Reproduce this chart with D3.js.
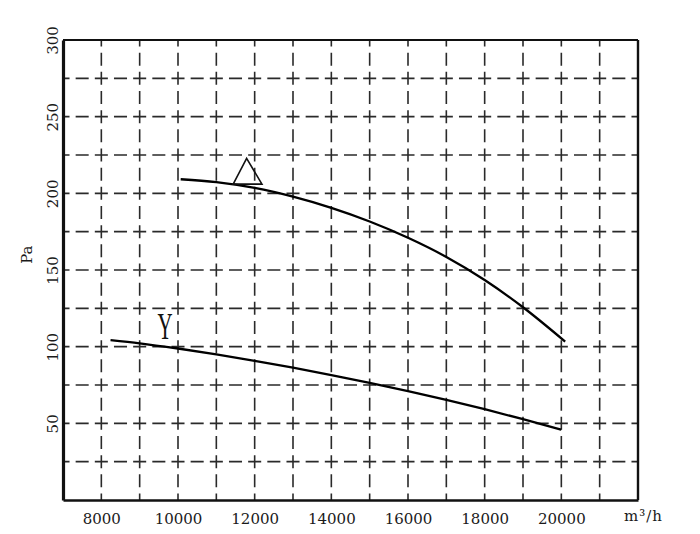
<!DOCTYPE html>
<html>
<head>
<meta charset="utf-8">
<script src="https://cdn.jsdelivr.net/npm/d3@7"></script>
<style>
  html, body { margin: 0; padding: 0; background: #fff; }
  svg { display: block; }
  .tick-label { font-family: "DejaVu Serif", serif; font-size: 15px; fill: #1a1a1a; }
</style>
</head>
<body>
<svg id="chart" width="700" height="534"></svg>
<script>
// --- data ---
const xTicks = [8000, 10000, 12000, 14000, 16000, 18000, 20000];
const yTicks = [50, 100, 150, 200, 250, 300];

// upper curve (△)
const upperFlow = [10070, 11000, 12000, 13000, 14000, 15000, 16000, 17000, 18000, 19000, 20100];
const upperPressure = [209.2, 207.3, 203.5, 197.8, 190.5, 181.6, 171, 158.5, 143.5, 125.7, 103.3];

// lower curve (Y)
const lowerFlow = [8240, 9000, 10000, 11000, 12000, 13000, 14000, 15000, 16000, 17000, 18000, 19000, 20000];
const lowerPressure = [104.3, 102.2, 98.8, 95, 90.8, 86.3, 81.5, 76.4, 71, 65.3, 59.2, 52.7, 45.9];

// triangle marker next to the upper curve: [flow, pressure]
const triangleFlow = [11440, 11790, 12190];
const trianglePressure = [206, 222.8, 206];

// "Y" label position
const yLabelFlow = [9660];
const yLabelPressure = [105];

// --- layout ---
const margin = { left: 63, right: 62, top: 40, bottom: 34 };
const width = 700, height = 534;

const svg = d3.select("#chart");

const x = d3.scaleLinear()
    .domain([7000, 22000])
    .range([margin.left, width - margin.right]);

const y = d3.scaleLinear()
    .domain([0, 300])
    .range([height - margin.bottom, margin.top]);

// --- dashed grid ---
const cell = x(8000) - x(7000);
const dash = [cell * 0.34, cell * 0.16];

const gridX = d3.range(8000, 22000, 1000);
const gridY = d3.range(25, 300, 25);

svg.append("g")
    .attr("class", "grid-v")
    .selectAll("line")
    .data(gridX)
    .join("line")
    .attr("x1", (d) => x(d))
    .attr("x2", (d) => x(d))
    .attr("y1", y(300))
    .attr("y2", y(0))
    .attr("stroke", "#2a2a2a")
    .attr("stroke-width", 1.6)
    .attr("stroke-dasharray", dash.join(","))
    .attr("stroke-dashoffset", dash[0] / 2);

svg.append("g")
    .attr("class", "grid-h")
    .selectAll("line")
    .data(gridY)
    .join("line")
    .attr("x1", x(7000))
    .attr("x2", x(22000))
    .attr("y1", (d) => y(d))
    .attr("y2", (d) => y(d))
    .attr("stroke", "#2a2a2a")
    .attr("stroke-width", 1.6)
    .attr("stroke-dasharray", dash.join(","))
    .attr("stroke-dashoffset", dash[0] / 2);

// --- frame ---
svg.append("line")
    .attr("x1", x(7000)).attr("x2", x(22000))
    .attr("y1", y(300)).attr("y2", y(300))
    .attr("stroke", "#111").attr("stroke-width", 2);
svg.append("line")
    .attr("x1", x(22000)).attr("x2", x(22000))
    .attr("y1", y(300)).attr("y2", y(0))
    .attr("stroke", "#111").attr("stroke-width", 2.4);

// --- axes ---
const xAxis = svg.append("g")
    .attr("transform", `translate(0,${y(0)})`)
    .call(d3.axisBottom(x).tickValues(xTicks).tickSize(0).tickPadding(10).tickFormat(d3.format("d")));
xAxis.select(".domain").attr("stroke", "#111").attr("stroke-width", 2.6);
xAxis.selectAll("text").attr("class", "tick-label").attr("dy", "0.9em");

const yAxis = svg.append("g")
    .attr("transform", `translate(${x(7000)},0)`)
    .call(d3.axisLeft(y).tickValues(yTicks).tickSize(0).tickPadding(0).tickFormat(d3.format("d")));
yAxis.select(".domain").attr("stroke", "#111").attr("stroke-width", 3.2);
yAxis.selectAll("text")
    .attr("class", "tick-label")
    .attr("x", null)
    .attr("dy", null)
    .attr("text-anchor", "middle")
    .attr("transform", "translate(-5,0) rotate(-90)");

// axis titles
svg.append("text")
    .attr("class", "tick-label")
    .attr("x", 624)
    .attr("y", 521)
    .attr("font-size", 16)
    .style("letter-spacing", "1px")
    .text("m³/h");

svg.append("text")
    .attr("class", "tick-label")
    .attr("text-anchor", "middle")
    .attr("transform", `translate(32,${y(160)}) rotate(-90)`)
    .text("Pa");

// --- curves ---
const line = d3.line()
    .x((d) => x(d[0]))
    .y((d) => y(d[1]))
    .curve(d3.curveMonotoneX);

const curves = [
    d3.zip(upperFlow, upperPressure),
    d3.zip(lowerFlow, lowerPressure),
];

svg.append("g")
    .selectAll("path")
    .data(curves)
    .join("path")
    .attr("d", line)
    .attr("fill", "none")
    .attr("stroke", "#000")
    .attr("stroke-width", 2.3);

// triangle marker
svg.append("path")
    .datum(d3.zip(triangleFlow, trianglePressure))
    .attr("d", (d) => d3.line().x((p) => x(p[0])).y((p) => y(p[1]))(d) + "Z")
    .attr("fill", "none")
    .attr("stroke", "#111")
    .attr("stroke-width", 1.6)
    .attr("stroke-linejoin", "miter");

// "Y" label
svg.append("g")
    .selectAll("text")
    .data(d3.zip(yLabelFlow, yLabelPressure))
    .join("text")
    .attr("transform", (d) => `translate(${x(d[0])},${y(d[1])}) scale(0.55,1)`)
    .attr("text-anchor", "middle")
    .attr("font-family", "Liberation Serif, serif")
    .attr("font-size", 38)
    .attr("fill", "#111")
    .text("Y");
</script>
</body>
</html>
